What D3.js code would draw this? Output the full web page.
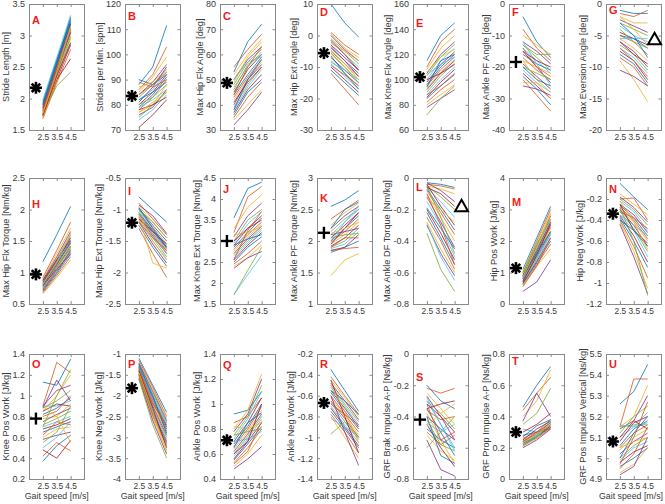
<!DOCTYPE html>
<html><head><meta charset="utf-8">
<script src="https://cdn.jsdelivr.net/npm/d3@7"></script>
<style>body{margin:0;background:#fff}svg{display:block;font-family:"Liberation Sans",Arial,sans-serif}</style>
</head><body><svg id="c" width="665" height="504"></svg>
<script>
// ---------- DATA ----------
const speeds=[2.5,3.5,4.5];
const xTicks=[2.5,3.5,4.5];
const lineColors=["#0072BD","#D95319","#EDB120","#7E2F8E","#77AC30","#4DBEEE","#A2142F"];

const dataA=[[1.75,2.40,3.05],[1.80,2.50,3.20],[1.70,2.35,2.95],[1.85,2.55,3.25],[1.90,2.60,3.30],[1.78,2.45,3.10],[1.72,2.30,2.85],[1.95,2.62,3.22],[1.68,2.25,2.78],[1.82,2.48,3.15],[1.88,2.52,3.18],[1.76,2.20,2.42],[1.80,2.38,2.90],[1.74,2.30,2.63],[1.92,2.58,3.28],[1.86,2.50,3.12],[1.70,2.32,3.00],[1.84,2.46,3.05],[1.78,2.40,2.98],[1.98,2.65,3.32],[1.73,2.36,2.88],[1.90,2.55,3.18],[1.81,2.44,3.08],[1.76,2.42,3.14]];
const dataB=[[88,95,111.5],[86,92,103],[85,91,99],[84,89,96],[83,88,94],[82,86,93],[80,85,92],[79,84,91],[78,83,90],[77,80,88],[76,79,86],[75,80,85],[74,78,84],[71,76,82],[90,88,92],[89,87,90],[87,89,94],[81,87,95],[80,83,88],[79,82,86],[78,80,83],[82,85,89],[84,88,93],[77,81,85]];
const dataC=[[53,65,72],[55,62,68],[52,60,66],[50,58,63],[48,57,62],[47,55,61],[45,54,60],[44,52,59],[43,51,58],[42,50,57],[40,50,56],[39,48,55],[38,47,54],[37,46,52],[36,45,50],[35,43,49],[34,40,46],[32,38,45],[46,56,60],[50,57,59],[41,49,55],[38,50,58],[44,55,63],[49,59,65]];
const dataD=[[10,4,-0.5],[1,-3,-6],[0.5,-4,-7],[0,-4.5,-8],[-1,-5,-9],[-2,-6,-10],[-3,-7,-11],[-4,-8,-12],[-5,-9,-13],[-6,-10,-14],[-7,-11,-15],[-8,-12,-16],[-9,-13,-17],[-10,-14,-18],[-11,-15,-19],[-12,-17,-22],[-2.5,-5,-8],[-3.5,-8,-13],[-5.5,-10,-15],[-8.5,-11,-14],[-1.5,-6,-11],[-6.5,-12,-17],[-9.5,-12.5,-16],[-4.5,-9,-14]];
const dataE=[[115,135,145],[110,130,140],[108,125,135],[105,120,130],[103,118,128],[100,115,125],[98,112,122],[96,110,120],[95,108,118],[93,106,116],[92,105,115],[90,103,113],[88,100,110],[86,98,108],[85,95,104],[82,92,100],[80,88,96],[78,85,92],[72,85,95],[104,112,118],[100,105,112],[94,115,120],[88,95,105],[106,118,124]];
const dataF=[[-4,-12,-17],[-8,-14,-18],[-10,-13,-16],[-12,-15,-19],[-13,-17,-21],[-14,-18,-22],[-15,-20,-25],[-16,-19,-21],[-17,-21,-24],[-18,-20,-22],[-19,-23,-27],[-20,-22,-24],[-21,-25,-28],[-22,-26,-30],[-23,-27,-32],[-24,-29,-34],[-25,-25,-30],[-26,-27,-29],[-13,-16,-16],[-12,-19,-26],[-15,-18,-20],[-20,-24,-26],[-14,-20,-23],[-18,-24,-28]];
const dataG=[[-1,-1.5,-1.5],[-1.5,-2,-1],[-2,-3,-3],[-2.5,-3.5,-4.5],[-3,-4,-5],[-3.5,-5,-6],[-4.5,-5.5,-6.5],[-5,-5.5,-7],[-5,-6,-8],[-5.5,-7,-9],[-6,-7.5,-10],[-6.5,-8,-10.5],[-7,-8.5,-11],[-7.5,-9,-12],[-8,-9.5,-12.5],[-8.5,-10,-13],[-9,-12,-15.5],[-10.5,-11.5,-13],[-4,-6,-7],[-5.5,-5.5,-5.5],[-6,-8,-9.5],[-3,-5,-8.5],[-7,-9,-11.5],[-2,-4,-6.5]];
const dataH=[[1.17,1.6,2.05],[0.92,1.35,1.8],[0.9,1.3,1.7],[0.88,1.25,1.65],[0.86,1.22,1.6],[0.85,1.2,1.57],[0.84,1.18,1.55],[0.82,1.15,1.5],[0.8,1.12,1.48],[0.78,1.1,1.45],[0.77,1.08,1.42],[0.75,1.05,1.4],[0.74,1.02,1.37],[0.72,1.0,1.35],[0.7,0.98,1.3],[0.68,0.95,1.25],[0.66,0.92,1.2],[0.8,1.05,1.3],[0.83,1.1,1.38],[0.76,1.0,1.28],[0.87,1.2,1.52],[0.79,1.13,1.47],[0.73,1.04,1.33],[0.81,1.16,1.62]];
const dataI=[[-0.8,-1.0,-1.2],[-0.9,-1.15,-1.4],[-0.95,-1.2,-1.45],[-0.98,-1.25,-1.5],[-1.0,-1.28,-1.55],[-1.02,-1.3,-1.58],[-1.05,-1.33,-1.6],[-1.07,-1.35,-1.62],[-1.08,-1.38,-1.65],[-1.1,-1.4,-1.68],[-1.12,-1.42,-1.7],[-1.15,-1.45,-1.75],[-1.18,-1.5,-1.8],[-1.2,-1.55,-1.85],[-1.25,-1.6,-1.9],[-1.3,-1.7,-2.08],[-1.1,-1.85,-1.93],[-0.93,-1.1,-1.38],[-1.0,-1.2,-1.45],[-1.05,-1.4,-1.7],[-1.15,-1.35,-1.55],[-0.97,-1.3,-1.6],[-1.2,-1.45,-1.65],[-1.08,-1.5,-1.78]];
const dataJ=[[3.55,4.25,4.4],[3.2,4.05,4.3],[3.3,3.8,4.1],[3.1,3.6,3.9],[3.0,3.5,3.75],[2.95,3.4,3.7],[2.9,3.3,3.6],[2.85,3.2,3.55],[2.8,3.15,3.45],[2.75,3.1,3.4],[2.7,3.05,3.35],[2.65,3.0,3.3],[2.6,2.95,3.25],[2.55,2.9,3.2],[2.5,2.85,3.1],[2.45,2.7,3.0],[2.4,2.6,2.9],[2.35,2.6,2.75],[1.72,2.3,2.85],[1.72,2.2,2.65],[3.0,3.3,3.5],[2.9,3.05,3.15],[2.55,3.25,3.7],[3.15,3.2,3.35]];
const dataK=[[2.55,2.65,2.8],[2.35,2.5,2.65],[2.25,2.45,2.6],[2.2,2.4,2.55],[2.15,2.35,2.5],[2.1,2.3,2.5],[2.05,2.25,2.45],[2.0,2.2,2.4],[1.98,2.15,2.35],[1.95,2.1,2.3],[1.92,2.05,2.25],[1.9,2.0,2.2],[1.88,1.95,2.15],[1.85,1.9,2.1],[1.82,1.9,2.0],[1.85,1.88,1.9],[1.45,1.7,1.8],[2.1,2.15,2.2],[2.05,2.1,2.12],[2.0,2.3,2.55],[1.95,2.2,2.45],[2.2,2.5,2.62],[1.9,2.05,2.05],[2.12,2.2,2.3]];
const dataL=[[-0.03,-0.04,-0.06],[-0.04,-0.05,-0.07],[-0.05,-0.07,-0.1],[-0.03,-0.08,-0.15],[-0.05,-0.12,-0.2],[-0.06,-0.15,-0.25],[-0.04,-0.18,-0.3],[-0.07,-0.2,-0.33],[-0.08,-0.22,-0.36],[-0.1,-0.25,-0.4],[-0.12,-0.28,-0.44],[-0.05,-0.25,-0.48],[-0.15,-0.3,-0.5],[-0.2,-0.35,-0.52],[-0.22,-0.38,-0.55],[-0.25,-0.4,-0.58],[-0.28,-0.45,-0.6],[-0.3,-0.48,-0.62],[-0.35,-0.58,-0.72],[-0.29,-0.5,-0.65],[-0.06,-0.1,-0.18],[-0.19,-0.32,-0.45],[-0.1,-0.3,-0.55],[-0.13,-0.2,-0.28]];
const dataM=[[1.1,2.1,3.1],[1.0,2.0,3.0],[0.95,1.95,2.9],[0.9,1.85,2.8],[0.9,1.8,2.7],[0.85,1.75,2.65],[0.85,1.7,2.6],[0.8,1.65,2.5],[0.8,1.6,2.45],[0.75,1.55,2.4],[0.75,1.5,2.3],[0.7,1.45,2.25],[0.7,1.4,2.2],[0.65,1.35,2.1],[0.65,1.3,2.0],[0.6,1.25,1.9],[0.6,1.2,1.75],[0.4,0.7,1.4],[1.0,1.9,2.7],[0.8,1.5,2.2],[0.7,1.55,2.55],[0.9,1.6,2.3],[0.55,1.2,2.1],[0.85,1.8,2.85]];
const dataN=[[-0.05,-0.18,-0.3],[-0.2,-0.19,-0.4],[-0.15,-0.25,-0.35],[-0.18,-0.28,-0.42],[-0.2,-0.3,-0.45],[-0.22,-0.32,-0.5],[-0.25,-0.35,-0.52],[-0.26,-0.38,-0.55],[-0.28,-0.4,-0.58],[-0.3,-0.42,-0.6],[-0.3,-0.45,-0.65],[-0.32,-0.48,-0.7],[-0.35,-0.5,-0.75],[-0.36,-0.55,-0.8],[-0.38,-0.6,-0.85],[-0.4,-0.65,-0.95],[-0.42,-0.7,-1.05],[-0.44,-0.75,-1.1],[-0.28,-0.6,-1.12],[-0.35,-0.45,-0.55],[-0.25,-0.5,-0.62],[-0.4,-0.5,-0.65],[-0.32,-0.38,-0.48],[-0.22,-0.42,-0.68]];
const dataO=[[1.13,1.1,1.35],[0.9,1.32,1.22],[0.85,1.0,1.2],[0.9,1.05,1.1],[0.88,0.95,1.05],[0.9,0.9,0.95],[0.85,0.92,0.9],[0.82,0.88,0.98],[0.8,0.85,1.0],[0.78,0.8,0.92],[0.75,0.82,0.88],[0.72,0.78,0.85],[0.7,0.75,0.8],[0.68,0.72,0.78],[0.65,0.7,0.75],[0.62,0.75,0.72],[0.6,0.68,0.7],[0.58,0.62,0.65],[0.55,0.65,0.9],[0.5,0.6,0.75],[0.48,0.4,0.57],[0.37,0.52,0.62],[0.42,0.55,0.47],[0.9,0.8,0.55],[0.88,1.15,0.95],[0.7,1.0,1.25]];
const dataP=[[-1.1,-1.75,-2.4],[-1.15,-1.8,-2.5],[-1.2,-1.85,-2.55],[-1.22,-1.9,-2.6],[-1.25,-1.95,-2.65],[-1.28,-2.0,-2.7],[-1.3,-2.05,-2.75],[-1.32,-2.1,-2.8],[-1.35,-2.15,-2.85],[-1.38,-2.2,-2.9],[-1.4,-2.25,-2.95],[-1.42,-2.3,-3.0],[-1.45,-2.35,-3.05],[-1.48,-2.4,-3.1],[-1.5,-2.45,-3.15],[-1.52,-2.5,-3.2],[-1.55,-2.55,-3.3],[-1.58,-2.6,-3.4],[-1.6,-2.7,-3.5],[-1.3,-2.1,-2.62],[-1.4,-2.3,-3.25],[-1.25,-2.0,-2.9],[-1.35,-2.2,-2.7],[-1.45,-2.4,-3.35]];
const dataQ=[[0.92,0.95,1.1],[0.85,0.9,1.05],[0.8,0.95,1.24],[0.78,0.92,1.2],[0.75,0.9,1.15],[0.72,0.88,1.1],[0.7,0.85,1.05],[0.68,0.82,1.0],[0.66,0.8,0.98],[0.64,0.78,0.95],[0.62,0.76,0.92],[0.6,0.74,0.9],[0.58,0.72,0.88],[0.56,0.7,0.85],[0.55,0.68,0.82],[0.53,0.65,0.8],[0.5,0.6,0.75],[0.48,0.56,0.66],[0.75,0.78,0.8],[0.7,0.72,0.78],[0.6,0.7,1.0],[0.65,0.85,0.93],[0.52,0.62,0.86],[0.82,0.8,0.85]];
const dataR=[[-0.35,-0.55,-0.75],[-0.42,-0.6,-0.78],[-0.45,-0.62,-0.8],[-0.48,-0.65,-0.83],[-0.5,-0.68,-0.85],[-0.52,-0.7,-0.88],[-0.55,-0.72,-0.9],[-0.57,-0.75,-0.92],[-0.6,-0.78,-0.95],[-0.62,-0.8,-0.98],[-0.65,-0.82,-1.0],[-0.67,-0.85,-1.02],[-0.7,-0.88,-1.05],[-0.72,-0.9,-1.08],[-0.75,-0.92,-1.1],[-0.78,-0.95,-1.15],[-0.8,-1.0,-1.2],[-0.6,-0.95,-1.27],[-0.97,-0.85,-1.0],[-0.82,-0.9,-1.0],[-0.45,-0.8,-1.15],[-0.55,-0.65,-0.78],[-0.68,-0.78,-0.88],[-0.5,-0.75,-1.05]];
const dataS=[[-0.2,-0.3,-0.35],[-0.22,-0.25,-0.22],[-0.25,-0.35,-0.45],[-0.27,-0.4,-0.55],[-0.3,-0.38,-0.48],[-0.3,-0.45,-0.6],[-0.32,-0.4,-0.5],[-0.35,-0.5,-0.65],[-0.36,-0.42,-0.4],[-0.38,-0.55,-0.7],[-0.4,-0.48,-0.55],[-0.42,-0.58,-0.62],[-0.44,-0.5,-0.45],[-0.45,-0.6,-0.72],[-0.48,-0.55,-0.6],[-0.5,-0.58,-0.52],[-0.52,-0.62,-0.68],[-0.55,-0.74,-0.78],[-0.6,-0.5,-0.4],[-0.28,-0.45,-0.62],[-0.35,-0.32,-0.3],[-0.4,-0.65,-0.7],[-0.32,-0.55,-0.5],[-0.46,-0.38,-0.32]];
const dataT=[[0.46,0.6,0.72],[0.44,0.55,0.65],[0.4,0.5,0.7],[0.37,0.55,0.4],[0.35,0.42,0.58],[0.32,0.3,0.32],[0.3,0.35,0.42],[0.28,0.3,0.36],[0.26,0.3,0.38],[0.25,0.29,0.37],[0.24,0.29,0.36],[0.24,0.28,0.35],[0.23,0.28,0.34],[0.23,0.27,0.34],[0.22,0.27,0.33],[0.22,0.26,0.33],[0.21,0.26,0.32],[0.2,0.25,0.32],[0.21,0.27,0.35],[0.22,0.28,0.36],[0.25,0.32,0.37],[0.27,0.34,0.38],[0.24,0.3,0.33],[0.23,0.29,0.35]];
const dataU=[[5.26,5.32,5.45],[5.15,5.38,5.38],[5.15,5.2,5.35],[5.14,5.18,5.3],[5.12,5.2,5.25],[5.1,5.15,5.22],[5.08,5.17,5.2],[5.06,5.14,5.18],[5.05,5.12,5.16],[5.04,5.1,5.14],[5.02,5.08,5.12],[5.0,5.06,5.1],[4.99,5.05,5.08],[4.98,5.03,5.06],[4.96,5.0,5.05],[4.95,5.02,5.15],[4.93,4.97,5.05],[4.92,4.96,5.1],[5.15,5.16,5.16],[5.16,5.15,5.17],[5.1,5.18,5.14],[5.0,5.12,5.2],[4.97,5.1,5.27],[5.05,5.08,5.1]];

const panelData=[dataA,dataB,dataC,dataD,dataE,dataF,dataG,dataH,dataI,dataJ,dataK,dataL,dataM,dataN,dataO,dataP,dataQ,dataR,dataS,dataT,dataU];
const panelLetters=["A","B","C","D","E","F","G","H","I","J","K","L","M","N","O","P","Q","R","S","T","U"];
const yLabels=["Stride Length [m]","Strides per Min. [spm]","Max Hip Flx Angle [deg]","Max Hip Ext Angle [deg]","Max Knee Flx Angle [deg]","Max Ankle PF Angle [deg]","Max Eversion Angle [deg]",
"Max Hip Flx Torque [Nm/kg]","Max Hip Ext Torque [Nm/kg]","Max Knee Ext Torque [Nm/kg]","Max Ankle PF Torque [Nm/kg]","Max Ankle DF Torque [Nm/kg]","Hip Pos Work [J/kg]","Hip Neg Work [J/kg]",
"Knee Pos Work [J/kg]","Knee Neg Work [J/kg]","Ankle Pos Work [J/kg]","Ankle Neg Work [J/kg]","GRF Brak Impulse A-P [Ns/kg]","GRF Prop Impulse A-P [Ns/kg]","GRF Pos Impulse Vertical [Ns/kg]"];
const yDomains=[[1.5,3.5],[70,120],[30,80],[-30,10],[60,160],[-40,0],[-20,0],
[0.5,2.5],[-2.5,-0.5],[1.5,4.5],[1,3],[-0.8,0],[0,4],[-1.2,0],
[0.2,1.4],[-4,-1],[0.4,1.4],[-1.4,-0.2],[-0.8,0],[0,0.8],[4.9,5.5]];
const yTicks=[[1.5,2,2.5,3,3.5],[70,80,90,100,110,120],[30,40,50,60,70,80],[-30,-20,-10,0,10],[60,80,100,120,140,160],[-40,-30,-20,-10,0],[-20,-15,-10,-5,0],
[0.5,1,1.5,2,2.5],[-2.5,-2,-1.5,-1,-0.5],[1.5,2,2.5,3,3.5,4,4.5],[1,1.5,2,2.5,3],[-0.8,-0.6,-0.4,-0.2,0],[0,1,2,3,4],[-1.2,-1,-0.8,-0.6,-0.4,-0.2,0],
[0.2,0.4,0.6,0.8,1,1.2,1.4],[-4,-3.5,-3,-2.5,-2,-1.5,-1],[0.4,0.6,0.8,1,1.2,1.4],[-1.4,-1.2,-1,-0.8,-0.6,-0.4,-0.2],[-0.8,-0.6,-0.4,-0.2,0],[0,0.2,0.4,0.6,0.8],[4.9,5,5.1,5.2,5.3,5.4,5.5]];
const markerTypes=["star","star","star","star","star","plus","triangle","star","star","plus","plus","triangle","star","star","plus","star","star","star","plus","star","star"];
const markerX=[2,2,2,2,2,2,5,2,2,2,2,5,2,2,2,2,2,2,2,2,2];
const markerY=[2.17,83.5,48.7,-5.6,102,-18.4,-5.6,0.97,-1.21,3.0,2.13,-0.18,1.14,-0.34,0.78,-1.82,0.71,-0.67,-0.42,0.3,5.08];
const xLabel="Gait speed [m/s]";

// ---------- LAYOUT ----------
const colLeft=[29,125,220,317,413,509,606];
const rowTop=[4,178,354];
const boxW=55.5, boxH=126;
const letterDy=[16,12,12,8,19,8,6,26,13,11,20,9,24,11,10,10,11,10,23,7,10];
const axisCol="#8a8a8a", textCol="#3a3a3a";
const fmt=v=>String(+v.toFixed(2));

const svg=d3.select("#c");
panelData.forEach((data,i)=>{
  const col=i%7,row=Math.floor(i/7);
  const L=colLeft[col],T=rowTop[row],H=row===2?125:boxH;
  const x=d3.scaleLinear().domain([1.5,5.5]).range([L,L+boxW]);
  const y=d3.scaleLinear().domain(yDomains[i]).range([T+H,T]);
  const g=svg.append("g");
  const line=d3.line().x((d,k)=>x(speeds[k])).y(d=>y(d));
  g.selectAll("path.s").data(data).join("path").attr("class","s")
    .attr("d",line).attr("fill","none").attr("stroke",(d,k)=>lineColors[k%7]).attr("stroke-width",0.8);
  g.append("rect").attr("x",L).attr("y",T).attr("width",boxW).attr("height",H)
    .attr("fill","none").attr("stroke",axisCol).attr("stroke-width",1).attr("shape-rendering","crispEdges");
  const ya=d3.axisLeft(y).tickValues(yTicks[i]).tickFormat(fmt).tickSizeInner(-3).tickSizeOuter(0).tickPadding(4);
  const yg=g.append("g").attr("transform",`translate(${L},0)`).call(ya);
  const yr=g.append("g").attr("transform",`translate(${L+boxW},0)`).call(d3.axisRight(y).tickValues(yTicks[i]).tickFormat("").tickSizeInner(-3).tickSizeOuter(0));
  const xa=d3.axisBottom(x).tickValues(xTicks).tickFormat(fmt).tickSizeInner(-3).tickSizeOuter(0).tickPadding(4);
  const xg=g.append("g").attr("transform",`translate(0,${T+H})`).call(xa);
  const xt=g.append("g").attr("transform",`translate(0,${T})`).call(d3.axisTop(x).tickValues(xTicks).tickFormat("").tickSizeInner(-3).tickSizeOuter(0));
  [yg,yr,xg,xt].forEach(a=>{a.select(".domain").remove();a.selectAll("line").attr("stroke",axisCol);
    a.selectAll("text").attr("fill",textCol).style("font-size","9px").style("font-family",'"Liberation Sans",Arial,sans-serif');});
  xg.selectAll("text").style("font-size","8.4px");
  const bb=yg.node().getBBox();
  g.append("text").attr("transform",`translate(${L+bb.x-3},${T+H/2}) rotate(-90)`)
    .attr("text-anchor","middle").attr("fill",textCol).style("font-size","9.2px").text(yLabels[i]);
  if(row===2){
    const xl=g.append("text").attr("x",L+boxW/2).attr("y",T+H+20).attr("text-anchor","middle")
      .attr("fill",textCol).style("font-size","8.8px").text(xLabel);
    const xb=xl.node().getBBox();
    if(xb.x+xb.width>663) xl.attr("x",L+boxW/2-(xb.x+xb.width-663));
  }
  g.append("text").attr("x",L+3).attr("y",T+letterDy[i]+4).attr("fill","#ee1c1c")
    .style("font-size","11px").style("font-weight","bold").text(panelLetters[i]);
  const mx=x(markerX[i]),my=y(markerY[i]),t=markerTypes[i];
  const mg=g.append("g").attr("transform",`translate(${mx},${my})`).attr("stroke","#000").attr("fill","none");
  if(t==="star"){
    [0,45,90,135].forEach(a=>mg.append("line").attr("x1",-6).attr("x2",6).attr("y1",0).attr("y2",0)
      .attr("transform",`rotate(${a})`).attr("stroke-width",2.6));
    mg.append("circle").attr("r",2.5).attr("fill","#000").attr("stroke","none");
  } else if(t==="plus"){
    mg.append("line").attr("x1",-6).attr("x2",6).attr("stroke-width",2.4);
    mg.append("line").attr("y1",-6).attr("y2",6).attr("stroke-width",2.4);
  } else {
    mg.append("path").attr("d","M0,-6.5L6.5,5L-6.5,5Z").attr("stroke-width",2);
  }
});
</script></body></html>
